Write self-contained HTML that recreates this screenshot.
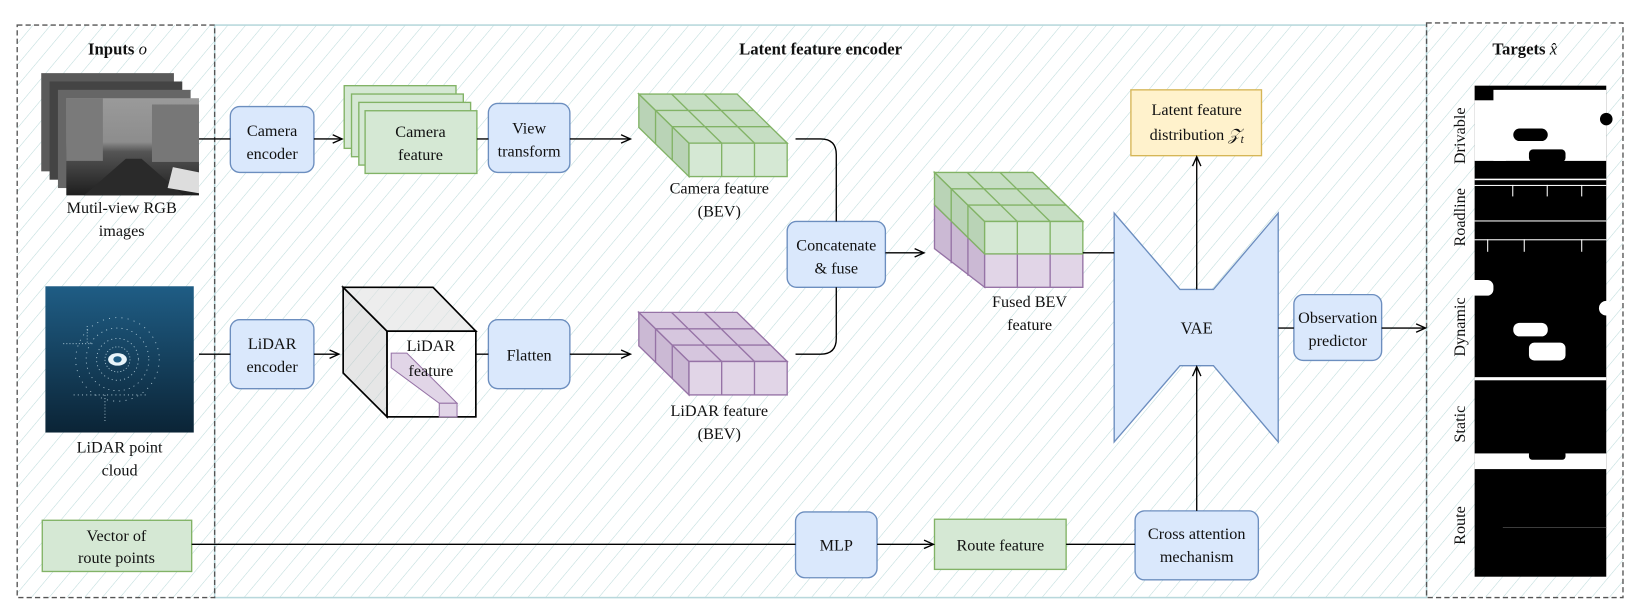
<!DOCTYPE html>
<html><head><meta charset="utf-8"><style>
html,body{margin:0;padding:0;background:#fff}
svg{display:block}
text{font-family:"Liberation Serif",serif;fill:#111}
</style></head><body>
<svg width="1636" height="607" viewBox="0 0 1565 581" xmlns="http://www.w3.org/2000/svg">
<defs>
<pattern id="h" patternUnits="userSpaceOnUse" width="13" height="13" patternTransform="rotate(40)">
<line x1="0" y1="0" x2="0" y2="13" stroke="#bcdada" stroke-width="1"/>
</pattern>
<marker id="a" markerWidth="12" markerHeight="10" refX="10" refY="5" orient="auto" markerUnits="userSpaceOnUse">
<path d="M1,1 L10,5 L1,9" fill="none" stroke="#000" stroke-width="1.3"/>
</marker>
<linearGradient id="lg" x1="0" y1="0" x2="0" y2="1"><stop offset="0" stop-color="#1f5d85"/><stop offset="1" stop-color="#0b2436"/></linearGradient>
<linearGradient id="cam" x1="0" y1="0" x2="0" y2="1"><stop offset="0" stop-color="#9a9a9a"/><stop offset="0.45" stop-color="#8d8d8d"/><stop offset="0.55" stop-color="#555"/><stop offset="1" stop-color="#1e1e1e"/></linearGradient>
</defs>
<rect x="0" y="0" width="1565" height="581" fill="#fff"/>
<rect x="16" y="24" width="1537" height="548" fill="url(#h)"/>
<rect x="205" y="24" width="1160" height="548" fill="none" stroke="#b8d8dc" stroke-width="1.5"/>
<rect x="16" y="24" width="189" height="548" fill="none" stroke="#555" stroke-width="1.3" stroke-dasharray="5,3"/>
<rect x="1365" y="22" width="188" height="550" fill="none" stroke="#555" stroke-width="1.3" stroke-dasharray="5,3"/>

<text x="112" y="52" font-size="16" font-weight="bold" text-anchor="middle">Inputs <tspan font-style="italic" font-weight="normal">o</tspan></text>
<text x="785" y="52" font-size="16" font-weight="bold" text-anchor="middle">Latent feature encoder</text>
<text x="1459" y="52" font-size="16" font-weight="bold" text-anchor="middle">Targets <tspan font-style="italic" font-weight="normal">x̂</tspan></text>

<rect x="39" y="70" width="127" height="94" fill="#5a5a5a"/>
<rect x="47" y="78" width="127" height="94" fill="#444"/>
<rect x="55" y="86" width="127" height="94" fill="#666"/>
<rect x="63" y="94" width="127" height="93" fill="url(#cam)"/>
<rect x="63" y="94" width="35" height="60" fill="#7a7a7a"/>
<rect x="145" y="100" width="45" height="55" fill="#777"/>
<polygon points="120,152 135,152 175,187 80,187" fill="#2a2a2a"/>
<path d="M165,160 L190,165 L190,185 L160,180 Z" fill="#ddd"/>
<text x="116" y="204" font-size="15.5" text-anchor="middle">Mutil-view RGB</text>
<text x="116" y="226" font-size="15.5" text-anchor="middle">images</text>

<rect x="43" y="274" width="142" height="140" fill="url(#lg)"/>
<g stroke="#cfe6f0" stroke-width="0.8" fill="none" opacity="0.85">
<circle cx="112" cy="344" r="12" stroke-dasharray="1,2"/>
<circle cx="112" cy="344" r="20" stroke-dasharray="1,3"/>
<circle cx="112" cy="344" r="30" stroke-dasharray="1,4"/>
<circle cx="112" cy="344" r="40" stroke-dasharray="1,5"/>
<line x1="60" y1="329" x2="90" y2="329" stroke-dasharray="1,2"/>
<line x1="100" y1="378" x2="100" y2="405" stroke-dasharray="1,2"/>
<line x1="70" y1="378" x2="140" y2="378" stroke-dasharray="1,3"/>
<line x1="83" y1="312" x2="83" y2="330" stroke-dasharray="1,2"/>
</g>
<ellipse cx="112" cy="344" rx="9" ry="6" fill="#e8f4fa"/>
<ellipse cx="112" cy="344" rx="4" ry="3" fill="#1f5d85"/>
<text x="114" y="433" font-size="15.5" text-anchor="middle">LiDAR point</text>
<text x="114" y="455" font-size="15.5" text-anchor="middle">cloud</text>

<rect x="40" y="498" width="143" height="49" fill="#d5e8d4" stroke="#82b366" stroke-width="1.3"/>
<text x="111" y="518" font-size="15.5" text-anchor="middle">Vector of</text>
<text x="111" y="539" font-size="15.5" text-anchor="middle">route points</text>

<g fill="#dae8fc" stroke="#6c8ebf" stroke-width="1.3">
<rect x="220" y="102" width="80" height="63" rx="9"/>
<rect x="220" y="306" width="80" height="66" rx="9"/>
<rect x="467" y="99" width="78" height="66" rx="9"/>
<rect x="467" y="306" width="78" height="66" rx="9"/>
<rect x="753" y="212" width="94" height="63" rx="9"/>
<rect x="761" y="490" width="78" height="63" rx="9"/>
<rect x="1086" y="489" width="118" height="66" rx="9"/>
<rect x="1238" y="282" width="84" height="63" rx="9"/>
</g>
<g font-size="15.5" text-anchor="middle">
<text x="260" y="130">Camera</text><text x="260" y="152">encoder</text>
<text x="260" y="334">LiDAR</text><text x="260" y="356">encoder</text>
<text x="506" y="128">View</text><text x="506" y="150">transform</text>
<text x="506" y="345">Flatten</text>
<text x="800" y="240">Concatenate</text><text x="800" y="262">&amp; fuse</text>
<text x="800" y="527">MLP</text>
<text x="1145" y="516">Cross attention</text><text x="1145" y="538">mechanism</text>
<text x="1280" y="309">Observation</text><text x="1280" y="331">predictor</text>
</g>

<g fill="#d5e8d4" stroke="#82b366" stroke-width="1.3">
<rect x="329" y="82" width="107" height="60"/>
<rect x="336" y="90" width="107" height="60"/>
<rect x="343" y="98" width="107" height="60"/>
<rect x="349" y="106" width="107" height="60"/>
</g>
<text x="402" y="131" font-size="15.5" text-anchor="middle">Camera</text>
<text x="402" y="153" font-size="15.5" text-anchor="middle">feature</text>

<rect x="894" y="497" width="126" height="48" fill="#d5e8d4" stroke="#82b366" stroke-width="1.3"/>
<text x="957" y="527" font-size="15.5" text-anchor="middle">Route feature</text>

<rect x="1082" y="86" width="125" height="63" fill="#fff2cc" stroke="#d6b656" stroke-width="1.3"/>
<text x="1145" y="110" font-size="15.5" text-anchor="middle">Latent feature</text>
<text x="1145" y="134" font-size="15.5" text-anchor="middle">distribution <tspan font-style="italic">𝒵</tspan><tspan font-style="italic" font-size="11" dy="3">t</tspan></text>

<g stroke="#82b366" stroke-width="1.3">
<polygon points="611,90 659,137 659,169 611,122" fill="#b9d3b6"/>
<polygon points="611,90 705,90 753,137 659,137" fill="#c6dec3"/>
<rect x="659" y="137" width="94" height="32" fill="#d5e8d4"/>
<line x1="627" y1="105.7" x2="721" y2="105.7"/><line x1="643" y1="121.3" x2="737" y2="121.3"/>
<line x1="642.3" y1="90" x2="690.3" y2="137"/><line x1="673.7" y1="90" x2="721.7" y2="137"/>
<line x1="690.3" y1="137" x2="690.3" y2="169"/><line x1="721.7" y1="137" x2="721.7" y2="169"/>
<line x1="627" y1="105.7" x2="627" y2="137.7"/><line x1="643" y1="121.3" x2="643" y2="153.3"/>
</g>
<text x="688" y="185" font-size="15.5" text-anchor="middle">Camera feature</text>
<text x="688" y="207" font-size="15.5" text-anchor="middle">(BEV)</text>

<g stroke="#9673a6" stroke-width="1.3">
<polygon points="611,299 659,346 659,378 611,331" fill="#cbb9d4"/>
<polygon points="611,299 705,299 753,346 659,346" fill="#d6c6de"/>
<rect x="659" y="346" width="94" height="32" fill="#e1d5e7"/>
<line x1="627" y1="314.7" x2="721" y2="314.7"/><line x1="643" y1="330.3" x2="737" y2="330.3"/>
<line x1="642.3" y1="299" x2="690.3" y2="346"/><line x1="673.7" y1="299" x2="721.7" y2="346"/>
<line x1="690.3" y1="346" x2="690.3" y2="378"/><line x1="721.7" y1="346" x2="721.7" y2="378"/>
<line x1="627" y1="314.7" x2="627" y2="346.7"/><line x1="643" y1="330.3" x2="643" y2="362.3"/>
</g>
<text x="688" y="398" font-size="15.5" text-anchor="middle">LiDAR feature</text>
<text x="688" y="420" font-size="15.5" text-anchor="middle">(BEV)</text>

<g stroke-width="1.3">
<polygon points="894,196 942,243 942,275 894,238" fill="#cbb9d4" stroke="#9673a6"/>
<rect x="942" y="243" width="94" height="32" fill="#e1d5e7" stroke="#9673a6"/>
<line x1="973.3" y1="243" x2="973.3" y2="275" stroke="#9673a6"/><line x1="1004.7" y1="243" x2="1004.7" y2="275" stroke="#9673a6"/>
<line x1="910" y1="211.7" x2="910" y2="252" stroke="#9673a6"/><line x1="926" y1="227.3" x2="926" y2="264" stroke="#9673a6"/>
<polygon points="894,165 942,212 942,243 894,196" fill="#b9d3b6" stroke="#82b366"/>
<polygon points="894,165 988,165 1036,212 942,212" fill="#c6dec3" stroke="#82b366"/>
<rect x="942" y="212" width="94" height="31" fill="#d5e8d4" stroke="#82b366"/>
<g stroke="#82b366">
<line x1="910" y1="180.7" x2="1004" y2="180.7"/><line x1="926" y1="196.3" x2="1020" y2="196.3"/>
<line x1="925.3" y1="165" x2="973.3" y2="212"/><line x1="956.7" y1="165" x2="1004.7" y2="212"/>
<line x1="973.3" y1="212" x2="973.3" y2="243"/><line x1="1004.7" y1="212" x2="1004.7" y2="243"/>
<line x1="910" y1="180.7" x2="910" y2="211.7"/><line x1="926" y1="196.3" x2="926" y2="227.3"/>
</g>
</g>
<text x="985" y="294" font-size="15.5" text-anchor="middle">Fused BEV</text>
<text x="985" y="316" font-size="15.5" text-anchor="middle">feature</text>

<g stroke="#000" stroke-width="1.6">
<polygon points="328,275 370,317 370,399 328,357" fill="rgba(200,200,200,0.45)"/>
<polygon points="328,275 414,275 455,317 370,317" fill="rgba(225,225,225,0.6)"/>
<rect x="370" y="317" width="85" height="82" fill="rgba(255,255,255,0.5)"/>
</g>
<g stroke="#9673a6" stroke-width="1" fill="#e1d5e7">
<polygon points="374,338 389,338 437,386 420,386 374,352"/>
<rect x="420" y="386" width="17" height="13"/>
</g>
<text x="412" y="336" font-size="15.5" text-anchor="middle">LiDAR</text>
<text x="412" y="360" font-size="15.5" text-anchor="middle">feature</text>

<polygon points="1066,204 1129,277 1161,277 1223,204 1223,423 1161,350 1129,350 1066,423" fill="#dae8fc" stroke="#6c8ebf" stroke-width="1.3"/>
<text x="1145" y="319" font-size="16" text-anchor="middle">VAE</text>

<g stroke="#000" stroke-width="1.3" fill="none">
<line x1="190" y1="133" x2="220" y2="133"/>
<line x1="300" y1="133" x2="327" y2="133" marker-end="url(#a)"/>
<line x1="456" y1="133" x2="467" y2="133"/>
<line x1="545" y1="133" x2="603" y2="133" marker-end="url(#a)"/>
<line x1="190" y1="339" x2="220" y2="339"/>
<line x1="300" y1="339" x2="324" y2="339" marker-end="url(#a)"/>
<line x1="455" y1="339" x2="467" y2="339"/>
<line x1="545" y1="339" x2="603" y2="339" marker-end="url(#a)"/>
<path d="M761,133 L785,133 Q800,133 800,148 L800,212"/>
<path d="M761,339 L785,339 Q800,339 800,324 L800,275"/>
<line x1="847" y1="242" x2="884" y2="242" marker-end="url(#a)"/>
<line x1="1036" y1="242" x2="1066" y2="242"/>
<line x1="1145" y1="277" x2="1145" y2="150" marker-end="url(#a)"/>
<line x1="1145" y1="489" x2="1145" y2="351" marker-end="url(#a)"/>
<line x1="183" y1="521" x2="761" y2="521"/>
<line x1="839" y1="521" x2="893" y2="521" marker-end="url(#a)"/>
<line x1="1020" y1="521" x2="1086" y2="521"/>
<line x1="1223" y1="314" x2="1238" y2="314"/>
<line x1="1322" y1="314" x2="1364" y2="314" marker-end="url(#a)"/>
</g>

<rect x="1411" y="82" width="126" height="470" fill="#000"/>
<g fill="#fff">
<rect x="1429" y="86" width="108" height="68"/>
<rect x="1411" y="96" width="30" height="58"/>
<rect x="1448" y="123" width="33" height="12" rx="6" fill="#000"/>
<circle cx="1537" cy="114" r="6" fill="#000"/>
<rect x="1463" y="143" width="35" height="12" rx="4" fill="#000"/>
<rect x="1411" y="171" width="126" height="1.5"/>
<rect x="1411" y="177" width="126" height="1"/>
<rect x="1411" y="211" width="126" height="1"/>
<rect x="1411" y="229" width="126" height="1"/>
<rect x="1447" y="177" width="1" height="11"/><rect x="1480" y="177" width="1" height="11"/><rect x="1513" y="177" width="1" height="11"/>
<rect x="1423" y="229" width="1" height="12"/><rect x="1458" y="229" width="1" height="12"/><rect x="1513" y="229" width="1" height="12"/>
<rect x="1405" y="268" width="24" height="15" rx="6"/>
<circle cx="1537" cy="295" r="7"/>
<rect x="1448" y="309" width="33" height="13" rx="6"/>
<rect x="1463" y="328" width="35" height="17" rx="5"/>
<rect x="1411" y="361" width="126" height="3"/>
<rect x="1411" y="434" width="126" height="15"/>
<rect x="1463" y="432" width="35" height="8" rx="3" fill="#000"/>
</g>
<line x1="1438" y1="505" x2="1537" y2="505" stroke="#444" stroke-width="0.8"/>
<g font-size="15.5" text-anchor="middle">
<text transform="translate(1402,130) rotate(-90)">Drivable</text>
<text transform="translate(1402,208) rotate(-90)">Roadline</text>
<text transform="translate(1402,313) rotate(-90)">Dynamic</text>
<text transform="translate(1402,406) rotate(-90)">Static</text>
<text transform="translate(1402,503) rotate(-90)">Route</text>
</g>
</svg>
</body></html>
